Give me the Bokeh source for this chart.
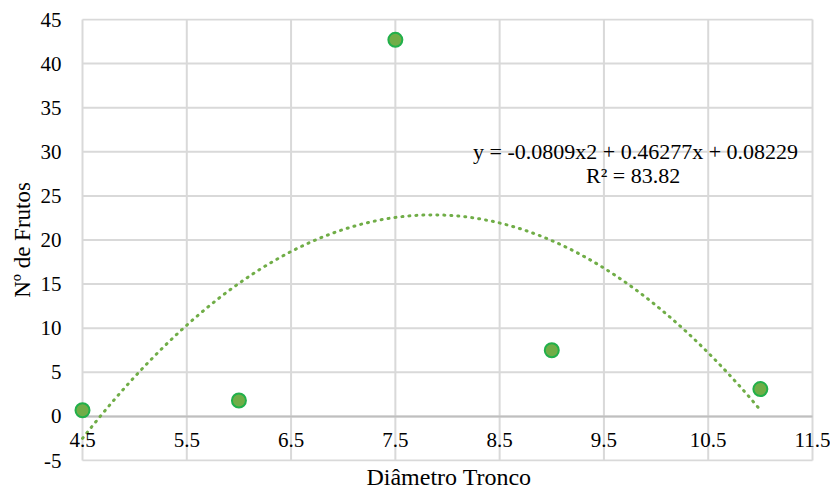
import numpy as np
from bokeh.plotting import figure
from bokeh.models import Label, LabelSet, Title, FixedTicker, Range1d, ColumnDataSource
from bokeh.embed import file_html
from bokeh.resources import INLINE

# data
diametro = [4.5, 6.0, 7.5, 9.0, 11.0]
frutos = [0.7, 1.8, 42.7, 7.5, 3.1]
x_ticks = [4.5, 5.5, 6.5, 7.5, 8.5, 9.5, 10.5, 11.5]
y_ticks = [-5, 0, 5, 10, 15, 20, 25, 30, 35, 40, 45]
eq_text = "y = -0.0809x2  + 0.46277x + 0.08229"
r2_text = "R² = 83.82"

# polynomial (order 2) trendline fitted to the data
coef = np.polyfit(diametro, frutos, 2)
tx = np.linspace(min(diametro), max(diametro), 200)
ty = np.polyval(coef, tx)

FONT = "Liberation Serif"
GRID = "#D9D9D9"

# plot area (4.5..11.5 x -5..45) is 730x441 px; the frame is a little larger so that
# edge markers and edge tick labels are not clipped
XPX = 730 / (x_ticks[-1] - x_ticks[0])
YPX = 441 / (y_ticks[-1] - y_ticks[0])
PAD_L, PAD_R, PAD_T, PAD_B = 15, 18, 1, 1

p = figure(frame_width=730 + PAD_L + PAD_R, frame_height=441 + PAD_T + PAD_B,
           output_backend="svg", toolbar_location=None,
           x_range=Range1d(x_ticks[0] - PAD_L / XPX, x_ticks[-1] + PAD_R / XPX),
           y_range=Range1d(y_ticks[0] - PAD_B / YPX, y_ticks[-1] + PAD_T / YPX),
           min_border_left=67, min_border_right=0, min_border_top=18, min_border_bottom=0)
p.outline_line_color = None
p.xgrid.visible = False
p.ygrid.visible = False

# gridlines bounded to the plot area
n_y, n_x = len(y_ticks), len(x_ticks)
p.segment(x0=[x_ticks[0]] * n_y, x1=[x_ticks[-1]] * n_y, y0=y_ticks, y1=y_ticks,
          line_color=GRID, line_width=2)
p.segment(x0=x_ticks, x1=x_ticks, y0=[y_ticks[0]] * n_x, y1=[y_ticks[-1]] * n_x,
          line_color=GRID, line_width=2)
# horizontal axis crossing at 0
p.segment(x0=[x_ticks[0]], x1=[x_ticks[-1]], y0=[0], y1=[0], line_color="#BFBFBF", line_width=2)

# x tick labels just below the axis line at y=0 (Excel "next to axis")
p.xaxis.visible = False
xlab = ColumnDataSource(dict(x=x_ticks, y=[0] * n_x, t=[str(v) for v in x_ticks]))
p.add_layout(LabelSet(x="x", y="y", text="t", source=xlab, y_offset=-17,
                      text_align="center", text_baseline="top", text_font=FONT,
                      text_font_size="21px", text_color="#000000"))

ya = p.yaxis[0]
ya.ticker = FixedTicker(ticks=y_ticks)
ya.major_label_overrides = {t: str(t) for t in y_ticks}
ya.axis_line_color = None
ya.major_tick_line_color = None
ya.minor_tick_line_color = None
ya.major_tick_out = 0
ya.major_label_standoff = 6
ya.major_label_text_font = FONT
ya.major_label_text_font_size = "21px"
ya.major_label_text_color = "#000000"
ya.axis_label = "Nº de Frutos"
ya.axis_label_text_font = FONT
ya.axis_label_text_font_size = "23px"
ya.axis_label_text_font_style = "normal"
ya.axis_label_text_color = "#000000"
ya.axis_label_standoff = 3

p.add_layout(Title(text="Diâmetro Tronco", align="center", text_font=FONT,
                   text_font_size="24px", text_font_style="normal",
                   text_color="#000000", standoff=0), "below")

p.line(tx, ty, line_color="#70AD47", line_width=3, line_dash="1 6", line_cap="round")
p.scatter(diametro, frutos, size=14, fill_color="#70AD47", line_color="#22B04B", line_width=2)

p.add_layout(Label(x=9.83, y=30.0, text=eq_text, text_align="center", text_baseline="middle",
                   text_font=FONT, text_font_size="22px", text_color="#000000"))
p.add_layout(Label(x=9.78, y=27.3, text=r2_text, text_align="center", text_baseline="middle",
                   text_font=FONT, text_font_size="22px", text_color="#000000"))

open("out.html", "w").write(file_html(p, INLINE))
